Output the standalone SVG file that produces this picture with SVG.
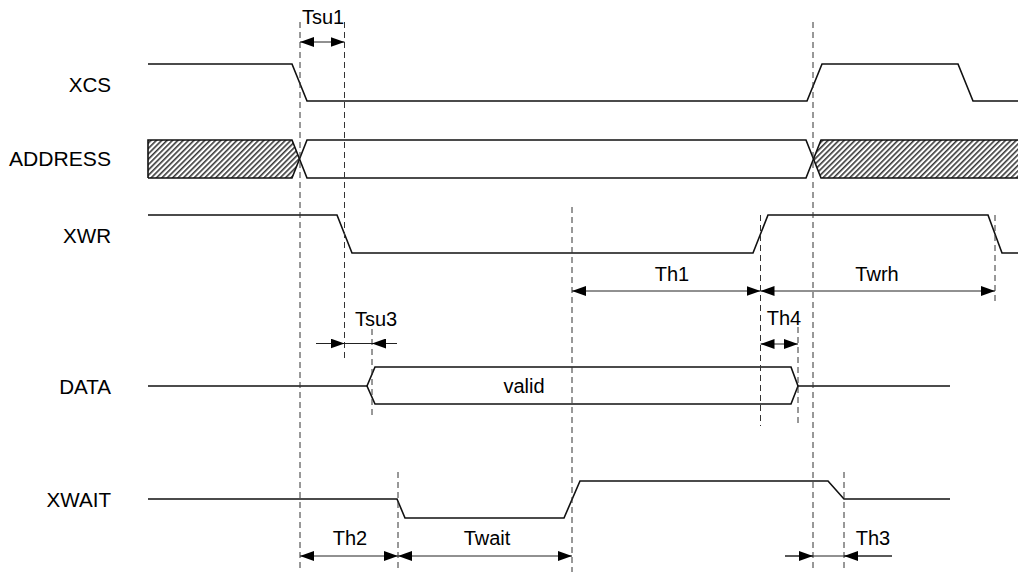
<svg xmlns="http://www.w3.org/2000/svg" width="1018" height="572" viewBox="0 0 1018 572">
<style>
.t{font-family:"Liberation Sans",Arial,sans-serif;font-size:20px;fill:#000}
.lbl{text-anchor:end;font-size:20.6px}
.c{text-anchor:middle}
.sig{fill:none;stroke:#111;stroke-width:1.6;stroke-linejoin:miter}
.guide{fill:none;stroke:#333;stroke-width:1;stroke-dasharray:6,4}
.dim{fill:none;stroke:#222;stroke-width:1}
</style>
<defs>
<pattern id="hatch" patternUnits="userSpaceOnUse" width="3.8" height="10" patternTransform="rotate(45)">
<rect width="3.8" height="10" fill="#fff"/>
<rect x="0" y="0" width="1.6" height="10" fill="#3a3a3a"/>
</pattern>
<marker id="ah" viewBox="0 0 14 10" refX="14" refY="5" markerWidth="14" markerHeight="10" markerUnits="userSpaceOnUse" orient="auto-start-reverse">
<path d="M0,0 L14,5 L0,10 Z" fill="#000"/>
</marker>
</defs>
<rect width="1018" height="572" fill="#fff"/>

<g id="labels">
<text class="t lbl" x="111" y="92">XCS</text>
<text class="t lbl" x="111" y="166" textLength="102" lengthAdjust="spacingAndGlyphs">ADDRESS</text>
<text class="t lbl" x="111" y="243">XWR</text>
<text class="t lbl" x="111" y="394">DATA</text>
<text class="t lbl" x="111" y="507">XWAIT</text>
</g>

<g id="sig-xcs">
<polyline class="sig" points="148,64 292,64 307,101 807,101 822,64 958,64 973,101 1018,101"/>
</g>

<g id="sig-address">
<polygon points="148,140 292,140 299.5,159 292,178 148,178" fill="url(#hatch)" stroke="none"/>
<polygon points="1020,140 821,140 813.5,159 821,178 1020,178" fill="url(#hatch)" stroke="none"/>
<polyline class="sig" points="148,178 148,140 292,140 307,178 806,178 821,140 1020,140"/>
<polyline class="sig" points="148,178 292,178 307,140 806,140 821,178 1020,178"/>
</g>

<g id="sig-xwr">
<polyline class="sig" points="148,215 337,215 352,253 753,253 768,215 988,215 1002,253 1018,253"/>
</g>

<g id="sig-data">
<polyline class="sig" points="148,386 367,386"/>
<polygon class="sig" points="367,386 375,367 791,367 798,386 791,404 375,404"/>
<polyline class="sig" points="798,386 950,386"/>
<text class="t c" x="524" y="393">valid</text>
</g>

<g id="sig-xwait">
<polyline class="sig" points="148,499 397,499 405,518 564,518 580,481 828,481 844,499 950,499"/>
</g>

<g id="guides">
<line class="guide" x1="300" y1="22" x2="300" y2="572"/>
<line class="guide" x1="344.5" y1="22" x2="344.5" y2="358"/>
<line class="guide" x1="372" y1="329" x2="372" y2="418"/>
<line class="guide" x1="572" y1="207" x2="572" y2="572"/>
<line class="guide" x1="760.5" y1="215" x2="760.5" y2="426"/>
<line class="guide" x1="798" y1="327" x2="798" y2="426"/>
<line class="guide" x1="813" y1="22" x2="813" y2="572"/>
<line class="guide" x1="995" y1="215" x2="995" y2="305"/>
<line class="guide" x1="398" y1="472" x2="398" y2="572"/>
<line class="guide" x1="844" y1="472" x2="844" y2="572"/>
</g>

<g id="connectors">
<line class="dim" x1="300" y1="42" x2="344.5" y2="42" marker-start="url(#ah)" marker-end="url(#ah)"/>
<line class="dim" x1="572" y1="291" x2="760.5" y2="291" marker-start="url(#ah)" marker-end="url(#ah)"/>
<line class="dim" x1="760.5" y1="291" x2="995" y2="291" marker-start="url(#ah)" marker-end="url(#ah)"/>
<line class="dim" x1="316" y1="343.5" x2="397" y2="343.5"/>
<line class="dim" x1="316" y1="343.5" x2="344.5" y2="343.5" marker-end="url(#ah)"/>
<line class="dim" x1="397" y1="343.5" x2="372" y2="343.5" marker-end="url(#ah)"/>
<line class="dim" x1="760.5" y1="344" x2="798" y2="344" marker-start="url(#ah)" marker-end="url(#ah)"/>
<line class="dim" x1="300" y1="556" x2="398" y2="556" marker-start="url(#ah)" marker-end="url(#ah)"/>
<line class="dim" x1="398" y1="556" x2="572" y2="556" marker-start="url(#ah)" marker-end="url(#ah)"/>
<line class="dim" x1="785" y1="556" x2="892" y2="556"/>
<line class="dim" x1="785" y1="556" x2="813" y2="556" marker-end="url(#ah)"/>
<line class="dim" x1="892" y1="556" x2="844" y2="556" marker-end="url(#ah)"/>
</g>

<g id="dim-labels">
<text class="t c" x="323" y="24">Tsu1</text>
<text class="t c" x="376" y="326">Tsu3</text>
<text class="t c" x="672" y="281">Th1</text>
<text class="t c" x="877" y="281">Twrh</text>
<text class="t c" x="784" y="325">Th4</text>
<text class="t c" x="350" y="545">Th2</text>
<text class="t c" x="487" y="545">Twait</text>
<text class="t c" x="873" y="545">Th3</text>
</g>
</svg>
